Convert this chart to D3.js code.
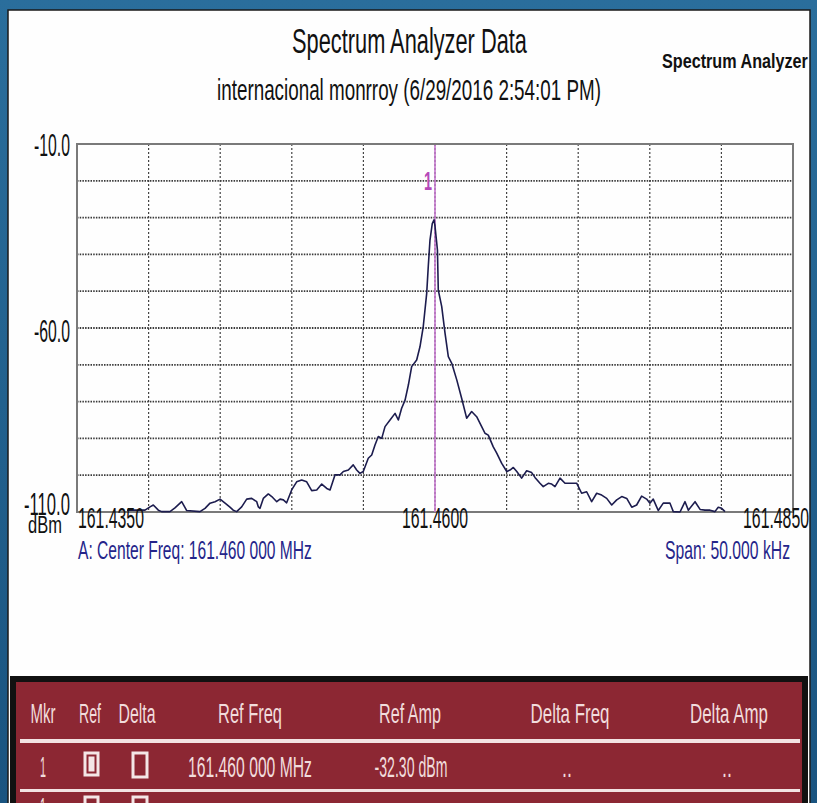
<!DOCTYPE html>
<html><head><meta charset="utf-8">
<script src="https://cdn.jsdelivr.net/npm/d3@7"></script>
<style>
html,body{margin:0;padding:0;background:#1d5a86;}
svg{display:block;}
text{font-family:"Liberation Sans",Arial,sans-serif;}
</style></head>
<body>
<script>
// ---------------- data ----------------
const centerFreqMHz = 161.46;
const spanKHz = 50;
const refLevel = -10, bottomLevel = -110;
const traceOffsetKHz = [-21.51,-20.46,-20.25,-19.90,-19.67,-19.32,-19.09,-18.51,-18.16,-17.69,-17.34,-16.41,-16.06,-15.71,-15.36,-15.01,-14.66,-14.32,-14.09,-13.85,-13.50,-13.15,-12.80,-12.45,-12.34,-12.22,-11.99,-11.64,-11.40,-11.05,-10.82,-10.59,-10.36,-10.01,-9.66,-9.31,-8.96,-8.61,-8.26,-7.91,-7.56,-7.33,-6.98,-6.63,-6.40,-6.05,-5.71,-5.47,-5.24,-5.01,-4.66,-4.42,-4.19,-3.96,-3.72,-3.49,-3.14,-2.79,-2.56,-2.33,-2.09,-1.86,-1.63,-1.28,-1.05,-0.82,-0.58,-0.47,-0.35,-0.19,-0.07,0.00,0.10,0.17,0.23,0.47,0.70,0.93,1.17,1.52,1.86,2.21,2.56,2.91,3.26,3.49,3.72,4.07,4.31,4.66,5.01,5.24,5.47,5.71,6.05,6.40,6.75,6.98,7.33,7.56,7.91,8.15,8.38,8.73,9.08,9.90,10.24,10.59,10.94,11.29,11.64,11.99,12.34,12.69,13.04,13.39,13.74,14.08,14.43,14.78,15.01,15.24,15.59,15.94,16.41,16.64,17.11,17.46,17.69,18.16,18.51,18.85,19.20,19.55,19.78,20.02,20.25];
const traceDbm = [-109.5,-109.5,-109.5,-108.6,-108.1,-109.5,-109.9,-109.9,-108.9,-107.2,-109.6,-109.9,-109.0,-107.6,-107.2,-106.5,-107.6,-108.7,-109.5,-109.9,-108.6,-106.5,-106.3,-107.2,-108.6,-109.0,-106.3,-105.1,-105.8,-107.2,-106.5,-106.7,-107.5,-104.0,-101.8,-101.3,-101.8,-104.2,-104.0,-102.4,-103.6,-104.0,-99.9,-99.9,-99.0,-98.6,-97.2,-98.6,-99.5,-99.0,-95.4,-94.5,-91.8,-89.5,-90.0,-86.8,-85.0,-83.2,-85.0,-81.8,-79.6,-75.5,-70.5,-68.7,-65.1,-59.6,-50.6,-43.3,-36.1,-31.6,-30.6,-32.3,-36.1,-38.8,-49.7,-54.2,-61.4,-67.8,-69.6,-74.1,-79.1,-84.5,-82.7,-84.1,-86.8,-88.6,-89.1,-92.3,-94.0,-96.8,-99.0,-98.6,-97.9,-99.0,-100.8,-98.8,-99.3,-100.6,-102.2,-103.1,-102.2,-102.4,-103.1,-100.8,-102.2,-102.2,-104.9,-104.5,-107.2,-104.9,-105.4,-106.3,-108.1,-106.7,-105.8,-106.3,-108.7,-108.1,-105.7,-106.5,-107.6,-106.5,-109.6,-107.6,-107.6,-109.9,-110.0,-107.2,-109.5,-107.2,-109.3,-109.5,-109.5,-109.9,-108.7,-109.0,-109.9];
const yTickValues = [-10, -60, -110];
const yTickLabels = ["-10.0", "-60.0", "-110.0"];
const xTickLabels = ["161.4350", "161.4600", "161.4850"];
const markerFreqMHz = 161.46;
const markerLabel = "1";
const titleText = "Spectrum Analyzer Data";
const subtitleText = "internacional monrroy (6/29/2016 2:54:01 PM)";
const cornerText = "Spectrum Analyzer";
const centerText = "A: Center Freq: 161.460 000 MHz";
const spanText = "Span: 50.000 kHz";
const tableHeaders = ["Mkr", "Ref", "Delta", "Ref Freq", "Ref Amp", "Delta Freq", "Delta Amp"];
const tableRow1 = ["1", "", "", "161.460 000 MHz", "-32.30 dBm", "..", ".."];

// ---------------- layout ----------------
const W = 817, H = 803;
const plot = {left: 77, right: 793, top: 144, bottom: 512};

const svg = d3.select("body").append("svg").attr("width", W).attr("height", H);
const defs = svg.append("defs");
const bg = defs.append("linearGradient").attr("id", "bg").attr("x1", 0).attr("y1", 0).attr("x2", 0).attr("y2", 1);
bg.append("stop").attr("offset", "0").attr("stop-color", "#2a6e9c");
bg.append("stop").attr("offset", "1").attr("stop-color", "#1a5480");
svg.append("rect").attr("width", W).attr("height", H).attr("fill", "url(#bg)");

// white panel
svg.append("rect").attr("x", 8).attr("y", 10).attr("width", 802).attr("height", 800)
  .attr("fill", "#fefefe").attr("stroke", "#1a1a1a").attr("stroke-width", 1.5);

// text drawn at natural size then horizontally condensed to the target width
function txt(s, x, y, size, opts = {}) {
  const t = svg.append("text").attr("x", 0).attr("y", 0).text(s)
    .attr("font-size", size).attr("fill", opts.fill || "#111")
    .attr("text-anchor", opts.anchor || "start");
  if (opts.weight) t.attr("font-weight", opts.weight);
  let sx = 1;
  if (opts.len) {
    const w = t.node().getComputedTextLength();
    if (w > 0) sx = opts.len / w;
  }
  t.attr("transform", `translate(${x},${y}) scale(${sx},1)`);
  return t;
}
txt(titleText, 409.5, 53, 35, {anchor: "middle", len: 235});
txt(subtitleText, 409, 100, 30, {anchor: "middle", len: 384});
txt(cornerText, 662, 68, 21, {len: 146, weight: "bold"});

// scales
const freqMin = centerFreqMHz - spanKHz / 2000, freqMax = centerFreqMHz + spanKHz / 2000;
const x = d3.scaleLinear().domain([freqMin, freqMax]).range([plot.left, plot.right]);
const y = d3.scaleLinear().domain([bottomLevel, refLevel]).range([plot.bottom, plot.top]);

// grid
const g = svg.append("g");
const xGrid = d3.range(1, 10).map(i => freqMin + i * (freqMax - freqMin) / 10);
const yGrid = d3.range(1, 10).map(i => bottomLevel + i * (refLevel - bottomLevel) / 10);
g.selectAll("line.v").data(xGrid).join("line")
  .attr("x1", d => x(d)).attr("x2", d => x(d)).attr("y1", plot.top).attr("y2", plot.bottom)
  .attr("stroke", "#444").attr("stroke-width", 1.2).attr("stroke-dasharray", "2,2");
g.selectAll("line.h").data(yGrid).join("line")
  .attr("x1", plot.left).attr("x2", plot.right).attr("y1", d => y(d)).attr("y2", d => y(d))
  .attr("stroke", "#3a3a3a").attr("stroke-width", 1.8).attr("stroke-dasharray", "1.5,1.2");

// frame
g.append("rect").attr("x", plot.left).attr("y", plot.top)
  .attr("width", plot.right - plot.left).attr("height", plot.bottom - plot.top)
  .attr("fill", "none").attr("stroke", "#7a7a7a").attr("stroke-width", 2);

// marker
g.append("line").attr("x1", x(markerFreqMHz)).attr("x2", x(markerFreqMHz))
  .attr("y1", plot.top + 1).attr("y2", plot.bottom)
  .attr("stroke", "#c375cc").attr("stroke-width", 1.6);
txt(markerLabel, x(markerFreqMHz) - 7, 190, 26, {fill: "#b548b8", weight: "bold", anchor: "middle", len: 8});

// trace
const pts = traceOffsetKHz.map((o, i) => [centerFreqMHz + o / 1000, traceDbm[i]]);
g.append("path").datum(pts)
  .attr("d", d3.line().x(d => x(d[0])).y(d => y(d[1])))
  .attr("fill", "none").attr("stroke", "#1c1c4e").attr("stroke-width", 1.6)
  .attr("stroke-linejoin", "round");

// y labels
const yBase = [156, 342, 515];
const yLen = [36, 36, 46];
yTickValues.forEach((v, i) => {
  txt(yTickLabels[i], 70, yBase[i], 31, {anchor: "end", len: yLen[i]});
});
txt("dBm", 28, 533, 24, {len: 34});

// x labels
const xTickVals = [freqMin, centerFreqMHz, freqMax];
const xAnchors = ["start", "middle", "end"];
const xShift = [1, 0, 16];
xTickVals.forEach((v, i) => {
  txt(xTickLabels[i], x(v) + xShift[i], 528, 30, {anchor: xAnchors[i], len: 66});
});

txt(centerText, 78, 559, 26, {fill: "#25258a", len: 234});
txt(spanText, 790, 559, 26, {fill: "#25258a", anchor: "end", len: 125});

// table
svg.append("rect").attr("x", 10).attr("y", 676).attr("width", 798).attr("height", 140)
  .attr("fill", "#111");
svg.append("rect").attr("x", 16).attr("y", 682).attr("width", 786).attr("height", 130)
  .attr("fill", "#8c2733");
const colX = [43, 90, 137, 250, 410, 570, 729];
const hdrLen = [25, 22, 37, 64, 62, 79, 78];
tableHeaders.forEach((h, i) => {
  txt(h, colX[i], 723, 28, {fill: "#f1dcdc", anchor: "middle", len: hdrLen[i]});
});
svg.append("rect").attr("x", 20).attr("y", 739).attr("width", 780).attr("height", 4).attr("fill", "#f2e2e2");
svg.append("rect").attr("x", 20).attr("y", 789).attr("width", 780).attr("height", 3).attr("fill", "#f2e2e2");
const rowX = [43, 90, 137, 250, 411, 567, 727];
const rowLen = [6, 0, 0, 124, 73, 10, 10];
tableRow1.forEach((c, i) => {
  if (c) txt(c, rowX[i], 777, 29, {fill: "#f1dcdc", anchor: "middle", len: rowLen[i]});
});
// checkboxes row1
svg.append("rect").attr("x", 85).attr("y", 753).attr("width", 13).attr("height", 22)
  .attr("fill", "#8c2733").attr("stroke", "#f4e6e6").attr("stroke-width", 3);
svg.append("rect").attr("x", 88.5).attr("y", 756.5).attr("width", 6).attr("height", 15)
  .attr("fill", "#f4e6e6");
svg.append("rect").attr("x", 133).attr("y", 753).attr("width", 14).attr("height", 24)
  .attr("fill", "#8c2733").attr("stroke", "#f4e6e6").attr("stroke-width", 3);
// row 2 (partially visible)
txt("1", 43, 818, 29, {fill: "#f1dcdc", anchor: "middle", len: 6});
svg.append("rect").attr("x", 85).attr("y", 797).attr("width", 13).attr("height", 22)
  .attr("fill", "#8c2733").attr("stroke", "#f4e6e6").attr("stroke-width", 3);
svg.append("rect").attr("x", 133).attr("y", 797).attr("width", 14).attr("height", 24)
  .attr("fill", "#8c2733").attr("stroke", "#f4e6e6").attr("stroke-width", 3);
</script>
</body></html>
